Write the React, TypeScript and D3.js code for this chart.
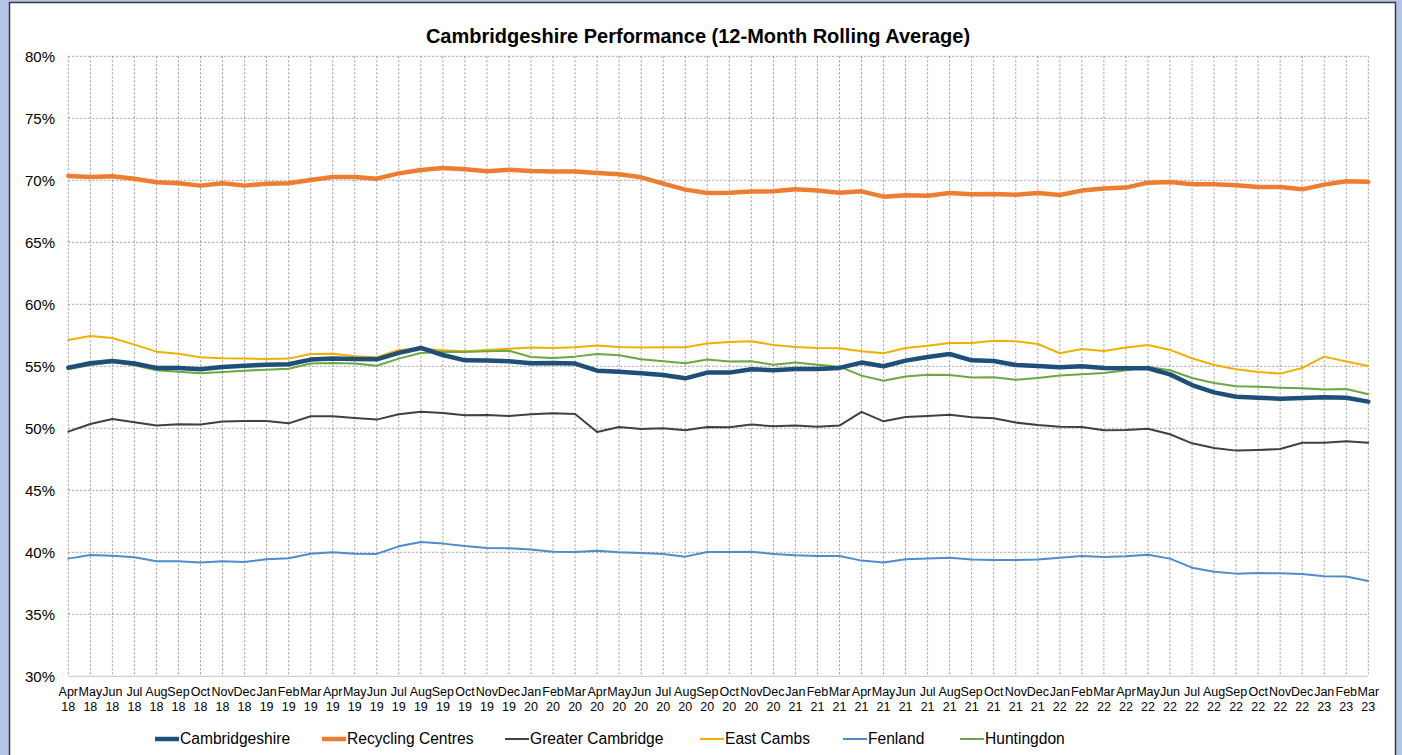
import React, { useEffect, useRef } from "react";
import * as d3 from "d3";

const months = ["Apr","May","Jun","Jul","Aug","Sep","Oct","Nov","Dec","Jan","Feb","Mar"];
const years = ["18","18","18","18","18","18","18","18","18","19","19","19","19","19","19","19","19","19","19","19","19","20","20","20","20","20","20","20","20","20","20","20","20","21","21","21","21","21","21","21","21","21","21","21","21","22","22","22","22","22","22","22","22","22","22","22","22","23","23","23"];
const categories = years.map((y, i) => `${months[i % 12]} ${y}`);

const cambridgeshire = [54.89,55.24,55.43,55.22,54.87,54.87,54.76,54.95,55.05,55.13,55.16,55.54,55.62,55.59,55.56,56.08,56.48,55.91,55.48,55.46,55.40,55.24,55.27,55.22,54.65,54.57,54.44,54.30,54.03,54.49,54.49,54.76,54.68,54.78,54.78,54.87,55.30,55.00,55.46,55.75,55.99,55.48,55.43,55.11,55.03,54.92,55.00,54.87,54.84,54.84,54.35,53.49,52.90,52.55,52.47,52.39,52.45,52.50,52.47,52.15];
const recyclingCentres = [70.35,70.27,70.32,70.13,69.84,69.76,69.57,69.76,69.57,69.73,69.76,70.03,70.27,70.27,70.13,70.56,70.83,70.99,70.90,70.73,70.86,70.75,70.70,70.70,70.59,70.48,70.24,69.73,69.25,68.98,69.00,69.09,69.11,69.27,69.17,69.00,69.11,68.68,68.79,68.76,68.98,68.87,68.90,68.84,68.98,68.82,69.17,69.33,69.41,69.81,69.87,69.68,69.68,69.60,69.46,69.46,69.27,69.65,69.92,69.89];
const greaterCambridge = [49.73,50.35,50.75,50.48,50.22,50.32,50.30,50.54,50.59,50.59,50.40,50.97,50.97,50.83,50.70,51.13,51.34,51.24,51.05,51.08,50.99,51.13,51.21,51.16,49.70,50.11,49.95,50.00,49.84,50.11,50.08,50.30,50.16,50.22,50.13,50.22,51.32,50.56,50.91,50.99,51.10,50.89,50.81,50.46,50.27,50.13,50.11,49.84,49.87,49.97,49.52,48.79,48.41,48.20,48.25,48.33,48.84,48.84,48.95,48.84];
const eastCambs = [57.12,57.45,57.28,56.75,56.18,56.02,55.73,55.65,55.62,55.59,55.62,55.99,56.02,55.81,55.73,56.32,56.42,56.29,56.22,56.32,56.42,56.51,56.48,56.53,56.67,56.56,56.51,56.53,56.53,56.83,56.96,57.02,56.72,56.56,56.48,56.45,56.21,56.05,56.48,56.66,56.88,56.88,57.07,57.02,56.80,56.05,56.40,56.24,56.51,56.72,56.32,55.65,55.11,54.76,54.54,54.41,54.87,55.78,55.38,55.03];
const fenland = [39.49,39.78,39.73,39.60,39.27,39.27,39.17,39.27,39.22,39.44,39.52,39.89,40.00,39.89,39.87,40.48,40.83,40.70,40.50,40.35,40.32,40.22,40.05,40.03,40.13,40.00,39.95,39.87,39.65,40.03,40.03,40.05,39.87,39.76,39.70,39.70,39.33,39.17,39.44,39.50,39.57,39.41,39.38,39.38,39.41,39.57,39.70,39.62,39.68,39.81,39.49,38.76,38.44,38.28,38.33,38.31,38.25,38.06,38.04,37.69];
const huntingdon = [54.76,55.11,55.35,55.08,54.68,54.57,54.44,54.54,54.65,54.73,54.81,55.22,55.27,55.22,55.05,55.62,56.08,56.18,56.16,56.21,56.26,55.75,55.67,55.78,55.99,55.89,55.56,55.40,55.24,55.54,55.38,55.40,55.13,55.30,55.13,54.97,54.25,53.84,54.17,54.31,54.30,54.09,54.11,53.92,54.06,54.25,54.35,54.46,54.68,54.95,54.68,54.06,53.66,53.39,53.36,53.28,53.23,53.12,53.17,52.74];

const yTicks = [30, 35, 40, 45, 50, 55, 60, 65, 70, 75, 80];

const seriesNames = ["Cambridgeshire", "Recycling Centres", "Greater Cambridge", "East Cambs", "Fenland", "Huntingdon"];
const seriesData = [cambridgeshire, recyclingCentres, greaterCambridge, eastCambs, fenland, huntingdon];
const seriesColors = ["#1f4e79", "#ed7d31", "#404040", "#f0b000", "#4f8cc9", "#6aa843"];
const seriesWidths = [4.5, 4.5, 2, 2, 2, 2];
const drawOrder = [1, 2, 3, 4, 5, 0];

const W = 1402, H = 755;
const M = { left: 68.3, right: 1368.3, top: 56.3, bottom: 676.3 };

export default function App() {
  const ref = useRef<SVGSVGElement>(null);
  useEffect(() => {
    const svg = d3.select(ref.current);
    svg.selectAll("*").remove();
    const font = "'Liberation Sans', Arial, sans-serif";

    svg.append("rect").attr("width", W).attr("height", H).attr("fill", "#b4c6e7");
    svg.append("rect").attr("x", 9.5).attr("y", 2.5).attr("width", 1386).attr("height", H + 10)
      .attr("fill", "#ffffff").attr("stroke", "#3a3a3a").attr("stroke-width", 1.5);

    const x = d3.scalePoint<string>().domain(categories).range([M.left, M.right]);
    const y = d3.scaleLinear().domain([30, 80]).range([M.bottom, M.top]);

    const g = svg.append("g");
    g.selectAll("line.vg").data(categories).enter().append("line")
      .attr("x1", d => x(d)!).attr("x2", d => x(d)!)
      .attr("y1", M.top).attr("y2", M.bottom)
      .attr("stroke", "#9a9a9a").attr("stroke-width", 1).attr("stroke-dasharray", "2,2");
    g.selectAll("line.hg").data(yTicks.filter(t => t > 30)).enter().append("line")
      .attr("x1", M.left).attr("x2", M.right)
      .attr("y1", d => y(d)).attr("y2", d => y(d))
      .attr("stroke", "#9a9a9a").attr("stroke-width", 1).attr("stroke-dasharray", "2,2");
    g.append("line").attr("x1", M.left).attr("x2", M.right).attr("y1", y(30)).attr("y2", y(30))
      .attr("stroke", "#d0d0d0").attr("stroke-width", 1.2);

    g.selectAll("text.yl").data(yTicks).enter().append("text")
      .attr("x", 55).attr("y", d => y(d)).attr("dy", "0.35em")
      .attr("text-anchor", "end").attr("font-family", font).attr("font-size", 15).attr("fill", "#000")
      .text(d => `${d}%`);

    const xl = g.selectAll("g.xl").data(categories).enter().append("g")
      .attr("transform", d => `translate(${x(d)},0)`);
    xl.append("text").attr("y", 696).attr("text-anchor", "middle").attr("font-family", font)
      .attr("font-size", 12.5).attr("fill", "#000").text(d => d.split(" ")[0]);
    xl.append("text").attr("y", 711).attr("text-anchor", "middle").attr("font-family", font)
      .attr("font-size", 12.5).attr("fill", "#000").text(d => d.split(" ")[1]);

    const line = d3.line<number>().x((_, i) => x(categories[i])!).y(d => y(d));
    drawOrder.forEach(si => {
      svg.append("path").datum(seriesData[si]).attr("d", line)
        .attr("fill", "none").attr("stroke", seriesColors[si])
        .attr("stroke-width", seriesWidths[si]).attr("stroke-linejoin", "round").attr("stroke-linecap", "round");
    });

    svg.append("text").attr("x", 698).attr("y", 43).attr("text-anchor", "middle")
      .attr("font-family", font).attr("font-weight", "bold").attr("font-size", 20).attr("fill", "#000")
      .text("Cambridgeshire Performance (12-Month Rolling Average)");

    const legendX = [155, 322, 505, 700, 843, 960];
    const lg = svg.append("g");
    seriesNames.forEach((name, i) => {
      lg.append("line").attr("x1", legendX[i]).attr("x2", legendX[i] + 24).attr("y1", 739).attr("y2", 739)
        .attr("stroke", seriesColors[i]).attr("stroke-width", seriesWidths[i]);
      lg.append("text").attr("x", legendX[i] + 25).attr("y", 739).attr("dy", "0.35em")
        .attr("font-family", font).attr("font-size", 15.6).attr("fill", "#000").text(name);
    });
  }, []);
  return <svg ref={ref} width={W} height={H} style={{ position: "absolute", left: 0, top: 0, display: "block" }} />;
}
